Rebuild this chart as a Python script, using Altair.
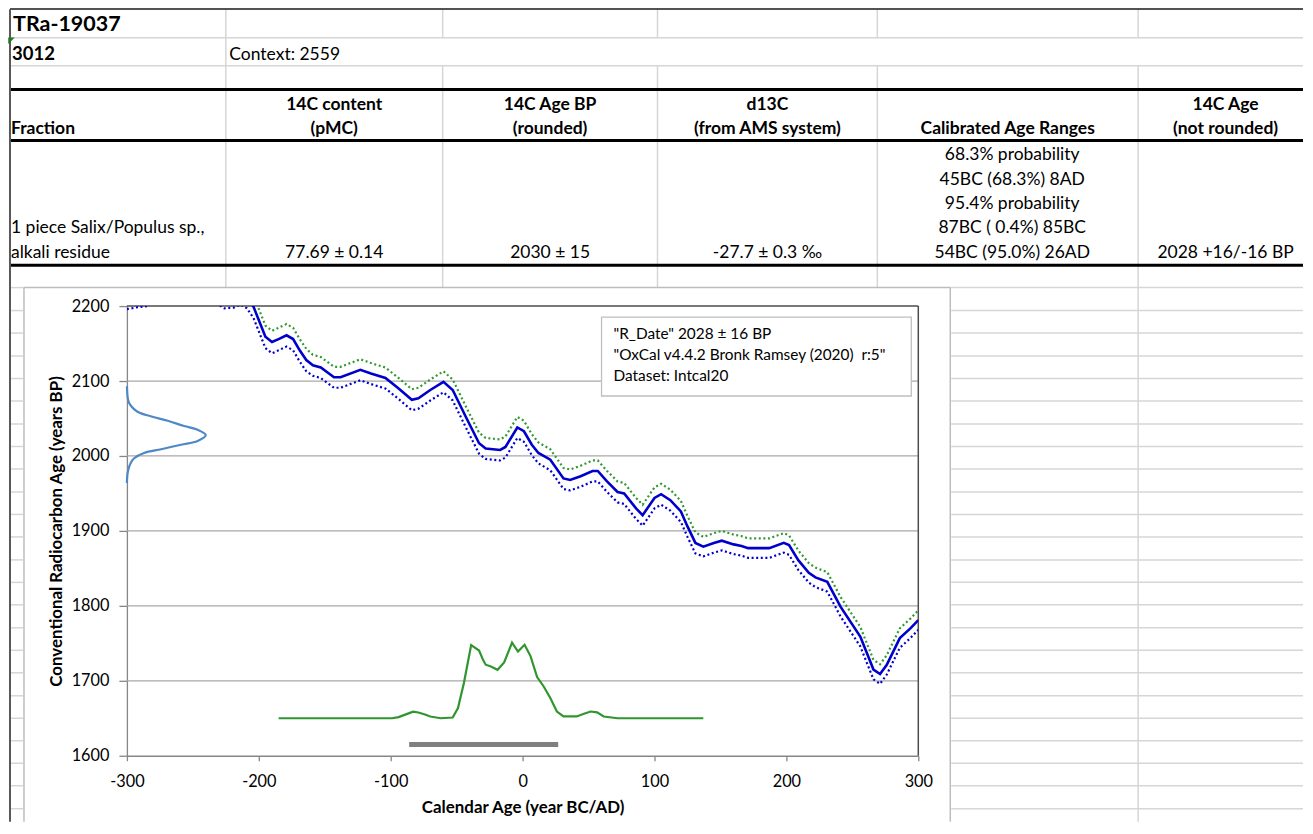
import altair as alt
import pandas as pd

FONT = "Lato"

# ------------------------------------------------------------------ data
# calibration curve (IntCal20): calendar year, 14C age BP, 1 sigma
CAL_YEAR = [-300, -290, -284, -275, -262, -248, -235, -226, -219, -214, -209, -204, -195, -190,
            -185, -179, -174, -169, -164, -159, -153, -143, -138, -123, -115, -104, -94, -84,
            -79, -70, -60, -53, -43, -33, -28, -17, -13, -4, 1, 7, 12, 21, 31, 36, 44, 53, 57,
            64, 72, 77, 86, 91, 100, 105, 112, 120, 125, 131, 137, 145, 151, 160, 166, 171, 187,
            198, 202, 209, 217, 222, 231, 241, 256, 261, 266, 271, 276, 281, 286, 294, 300]
CAL_BP = [2210, 2213, 2215, 2227, 2236, 2234, 2221, 2211, 2212, 2216, 2212, 2199, 2159, 2152,
          2156, 2161, 2156, 2141, 2128, 2121, 2118, 2105, 2105, 2115, 2110, 2104, 2090, 2075,
          2077, 2088, 2099, 2088, 2052, 2017, 2010, 2008, 2012, 2038, 2033, 2015, 2004, 1995,
          1970, 1968, 1973, 1980, 1980, 1966, 1952, 1950, 1930, 1921, 1944, 1949, 1941, 1926,
          1906, 1884, 1879, 1884, 1887, 1882, 1880, 1877, 1877, 1884, 1881, 1861, 1844, 1838,
          1832, 1799, 1759, 1737, 1715, 1709, 1721, 1739, 1757, 1770, 1781]
CAL_SIGMA = [14, 14, 15, 15, 15, 15, 15, 14, 14, 14, 15, 15, 15, 15,
             15, 15, 15, 15, 15, 14, 14, 14, 14, 14, 14, 14, 14, 14,
             14, 14, 14, 14, 14, 14, 14, 14, 14, 14, 14, 14, 14, 14,
             14, 14, 14, 14, 14, 14, 14, 14, 14, 14, 14, 14, 14, 14,
             14, 14, 13, 13, 13, 13, 13, 13, 13, 13, 13, 13, 13, 13,
             13, 13, 13, 13, 13, 13, 13, 13, 13, 13, 13]

# measured radiocarbon date, drawn as a distribution on the BP axis
RDATE_BP = [2093, 2086, 2079, 2073, 2067, 2059, 2053, 2047, 2040, 2035, 2028, 2020, 2015,
            2009, 2004, 1997, 1991, 1986, 1977, 1964]
RDATE_YEAR = [-300, -299.8, -299.5, -298.8, -297, -292, -282, -269, -256.6, -246.4, -240.2,
              -246.4, -259, -274, -287, -294.5, -297, -298.2, -299.5, -300]

# calibrated probability distribution, drawn on the calendar axis
POST_YEAR = [-185, -99, -94, -88, -83, -79, -74, -70, -62, -53, -49, -44.5, -39, -33, -30, -28,
             -24, -19, -14, -8, -3.5, 1.5, 6, 11, 16, 21, 26, 31, 41, 46, 51.5, 56.5, 61.5, 72, 137]
POST_BP = [1650, 1650, 1651.6, 1655.5, 1658.7, 1657.7, 1655, 1652.4, 1650, 1651, 1663.6, 1697,
           1747.6, 1740.4, 1728, 1721.5, 1719, 1714.7, 1724.4, 1751, 1739, 1748, 1733, 1705,
           1692.4, 1677, 1659, 1652.4, 1652.4, 1655.6, 1659, 1657.8, 1652.4, 1650, 1650]

# 95.4% range bar
RANGE_START = [-86]
RANGE_END = [27]
RANGE_BP = [1615]

X_TICKS = [-300, -200, -100, 0, 100, 200, 300]
Y_TICKS = [1600, 1700, 1800, 1900, 2000, 2100, 2200]
GRID_BP = [1700, 1800, 1900, 2000, 2100]
X_TITLE = "Calendar Age (year BC/AD)"
Y_TITLE = "Conventional Radiocarbon Age (years BP)"

# ------------------------------------------------------------------ table text
SAMPLE_ID = "TRa-19037"
SAMPLE_NO = "3012"
CONTEXT = "Context: 2559"
HEAD_TOP = ["", "14C content", "14C Age BP", "d13C", "", "14C Age"]
HEAD_BOTTOM = ["Fraction", "(pMC)", "(rounded)", "(from AMS system)", "Calibrated Age Ranges",
               "(not rounded)"]
FRACTION = ["1 piece Salix/Populus sp.,", "alkali residue"]
RESULTS = ["", "77.69 ± 0.14", "2030 ± 15", "-27.7 ± 0.3 ‰", "", "2028 +16/-16 BP"]
CAL_RANGES = ["68.3% probability", "45BC (68.3%) 8AD", "95.4% probability",
              "87BC ( 0.4%) 85BC", "54BC (95.0%) 26AD"]
LEGEND = ['"R_Date" 2028 \u00b1 16 BP', '"OxCal v4.4.2 Bronk Ramsey (2020)\u00a0\u00a0r:5"',
          "Dataset: Intcal20"]

# ------------------------------------------------------------------ layout (page pixels)
PL, PT, PR, PB = 126, 306, 918, 756          # plot area
W, H = PR - PL, PB - PT
COL = [8, 225, 442, 657, 877, 1138, 1313]   # sheet column edges
CENTER = [(COL[i] + COL[i + 1]) / 2 for i in range(6)]
RIGHT = 1303                                 # last drawn pixel column (page must not overflow)
TOP = 9
HEAD_Y = [109.5, 133.5]
BODY_Y = [159.5, 184.5, 208.5, 233, 257.5]
SHEET_ROWS = [310.5, 333, 356, 378.5, 401, 424, 446.5, 469, 492, 514.5, 537, 560, 582.5, 605,
              628, 650.5, 673, 696, 718.5, 741, 763.5, 786, 809]
BOTTOM = 822
FRAME_L, FRAME_T, FRAME_R = 23, 287.5, 950
SHEET = "#d6d6d6"
FRAME = "#bdbdbd"
TABLE_SIZE = 17.5

# ------------------------------------------------------------------ decoration scales
DXS = alt.Scale(domain=[PL, PR], nice=False, zero=False)
DYS = alt.Scale(domain=[PT, PB], nice=False, zero=False, reverse=True)


def dx(f):
    return alt.X(f"{f}:Q", scale=DXS, axis=None)


def dy(f):
    return alt.Y(f"{f}:Q", scale=DYS, axis=None)


segs = []


def hseg(y, x1, x2, c, w):
    segs.append(dict(x=x1, x2=x2, y=y, y2=y, c=c, w=w))


def vseg(x, y1, y2, c, w):
    segs.append(dict(x=x, x2=x, y=y1, y2=y2, c=c, w=w))


# spreadsheet grid
for y in [37.5, 65.5]:
    hseg(y, 9, RIGHT, SHEET, 1.5)
hseg(FRAME_T, 9, FRAME_L, SHEET, 1.5)
hseg(FRAME_T, FRAME_R, RIGHT, SHEET, 1.5)
for y in SHEET_ROWS:
    hseg(y, 10, FRAME_L - 1, SHEET, 1.5)
    hseg(y, FRAME_R + 1, RIGHT, SHEET, 1.5)
vseg(COL[1], TOP, FRAME_T, SHEET, 1.5)
for x in COL[2:5]:
    vseg(x, TOP, 37.5, SHEET, 1.5)
    vseg(x, 65.5, FRAME_T, SHEET, 1.5)
vseg(COL[5], TOP, 37.5, SHEET, 1.5)
vseg(COL[5], 65.5, BOTTOM, SHEET, 1.5)
# table borders
for y in [89.2, 140.2, 265.2]:
    hseg(y, 9, RIGHT, "#000000", 3)
hseg(8.75, 9, RIGHT, "#1a1a1a", 1.5)
vseg(9, 9, BOTTOM, "#595959", 2)
# chart frame
hseg(FRAME_T, FRAME_L, FRAME_R, FRAME, 1.5)
vseg(FRAME_L, FRAME_T, BOTTOM, FRAME, 1.5)
vseg(FRAME_R, FRAME_T, BOTTOM, FRAME, 1.5)

rules = alt.Chart(pd.DataFrame(segs)).mark_rule(strokeCap="butt").encode(
    x=dx("x"), x2=alt.X2("x2:Q"), y=dy("y"), y2=alt.Y2("y2:Q"),
    color=alt.Color("c:N", scale=None), strokeWidth=alt.StrokeWidth("w:Q", scale=None))


def text_layer(rows, size, weight="normal", align="left"):
    return alt.Chart(pd.DataFrame(rows)).mark_text(
        font=FONT, fontSize=size, fontWeight=weight, align=align, baseline="alphabetic",
        color="#000000").encode(x=dx("x"), y=dy("y"), text="t:N")


t_title = text_layer([dict(t=SAMPLE_ID, x=12, y=30.7)], 21.5, "bold")
t_sample = text_layer([dict(t=SAMPLE_NO, x=11, y=60)], 18.5, "bold")
t_left = text_layer([dict(t=CONTEXT, x=228.5, y=60),
                     dict(t=FRACTION[0], x=10, y=BODY_Y[3]),
                     dict(t=FRACTION[1], x=10, y=BODY_Y[4])], TABLE_SIZE)
t_bold_left = text_layer([dict(t=HEAD_BOTTOM[0], x=10, y=HEAD_Y[1])], TABLE_SIZE, "bold")
head_rows = [dict(t=HEAD_TOP[i], x=CENTER[i], y=HEAD_Y[0]) for i in range(6) if HEAD_TOP[i]]
head_rows += [dict(t=HEAD_BOTTOM[i], x=CENTER[i], y=HEAD_Y[1]) for i in range(1, 6)]
t_head = text_layer(head_rows, TABLE_SIZE, "bold", "center")
body_rows = [dict(t=RESULTS[i], x=CENTER[i], y=BODY_Y[4]) for i in range(6) if RESULTS[i]]
body_rows += [dict(t=s, x=CENTER[4] + 4.5, y=BODY_Y[k]) for k, s in enumerate(CAL_RANGES)]
t_body = text_layer(body_rows, TABLE_SIZE, "normal", "center")

marker = alt.Chart(pd.DataFrame([dict(x=10.5, y=40.5)])).mark_point(
    shape="M -1 -1 L 1 -1 L -1 1 Z", filled=True, size=42, color="#1f7a1f", opacity=1
).encode(x=dx("x"), y=dy("y"))

deco_under = alt.layer(rules, marker, t_title, t_sample, t_left, t_bold_left, t_head, t_body)

legend_box = alt.Chart(pd.DataFrame([dict(x=601, x2=911, y=317, y2=396)])).mark_rect(
    fill="white", stroke="#bfbfbf", strokeWidth=1.3
).encode(x=dx("x"), x2=alt.X2("x2:Q"), y=dy("y"), y2=alt.Y2("y2:Q"))
legend_text = text_layer([dict(t=s, x=613, y=339 + 21 * k) for k, s in enumerate(LEGEND)], 15.4)
deco_over = alt.layer(legend_box, legend_text)

# ------------------------------------------------------------------ plot
XS = alt.Scale(domain=[-300, 300], nice=False, zero=False)
YS = alt.Scale(domain=[1600, 2200], nice=False, zero=False)
AXIS_COMMON = dict(grid=False, domainColor="#868686", domainWidth=1.3, tickColor="#868686",
                   tickWidth=1.3, labelFont=FONT, labelFontSize=16.3, labelColor="#000000",
                   labelFlush=False, labelOverlap=False, labelExpr="'' + datum.value",
                   titleFont=FONT, titleFontSize=16.9, titleFontWeight="bold",
                   titleColor="#000000", titleBaseline="alphabetic", titleAlign="center")
AX = alt.Axis(orient="bottom", values=X_TICKS, title=X_TITLE, tickSize=5, labelPadding=12.5,
              titleX=W / 2, titleY=57, **AXIS_COMMON)
AY = alt.Axis(orient="left", values=Y_TICKS, title=Y_TITLE, tickSize=8, labelPadding=10,
              titleX=-65, titleY=H / 2, titleAngle=-90, **AXIS_COMMON)


def px(f="year"):
    return alt.X(f"{f}:Q", scale=XS, axis=AX)


def py(f="bp"):
    return alt.Y(f"{f}:Q", scale=YS, axis=AY)


grid = alt.Chart(pd.DataFrame({"bp": GRID_BP})).mark_rule(
    color="#a8a8a8", strokeWidth=1.3).encode(y=py())
top_border = alt.Chart(pd.DataFrame({"bp": [Y_TICKS[-1]]})).mark_rule(
    color="#4d4d4d", strokeWidth=1.5).encode(y=py())
right_border = alt.Chart(pd.DataFrame({"year": [X_TICKS[-1]]})).mark_rule(
    color="#4d4d4d", strokeWidth=1.5).encode(x=px())

cal = pd.DataFrame({"year": CAL_YEAR, "bp": CAL_BP, "sig": CAL_SIGMA})
cal["upper"] = cal["bp"] + cal["sig"]
cal["lower"] = cal["bp"] - cal["sig"]

cal_upper = alt.Chart(cal).mark_line(color="#2f9a2f", strokeWidth=2.2, strokeDash=[2, 2.6],
                                     clip=True).encode(x=px(), y=py("upper"))
cal_lower = alt.Chart(cal).mark_line(color="#0000d0", strokeWidth=2.2, strokeDash=[2, 2.6],
                                     clip=True).encode(x=px(), y=py("lower"))
cal_mid = alt.Chart(cal).mark_line(color="#0000cc", strokeWidth=2.6, clip=True).encode(
    x=px(), y=py())

rdate = pd.DataFrame({"year": RDATE_YEAR, "bp": RDATE_BP, "i": range(len(RDATE_BP))})
rdate_line = alt.Chart(rdate).mark_line(color="#4f88c6", strokeWidth=2.2,
                                        interpolate="catmull-rom").encode(
    x=px(), y=py(), order="i:Q")

post = pd.DataFrame({"year": POST_YEAR, "bp": POST_BP})
post_line = alt.Chart(post).mark_line(color="#2f962f", strokeWidth=2.2).encode(x=px(), y=py())

rng = pd.DataFrame({"year": RANGE_START, "year2": RANGE_END, "bp": RANGE_BP})
range_bar = alt.Chart(rng).mark_rule(color="#808080", strokeWidth=5, strokeCap="butt").encode(
    x=px(), x2=alt.X2("year2:Q"), y=py())

plot = alt.layer(grid, top_border, right_border, rdate_line, post_line, range_bar,
                 cal_upper, cal_lower, cal_mid)

chart = alt.layer(deco_under, plot, deco_over).resolve_scale(
    x="independent", y="independent"
).properties(width=W, height=H, padding=0, background="white").configure_view(stroke=None)

chart.save("out.html", embed_options={"renderer": "svg", "actions": False})
